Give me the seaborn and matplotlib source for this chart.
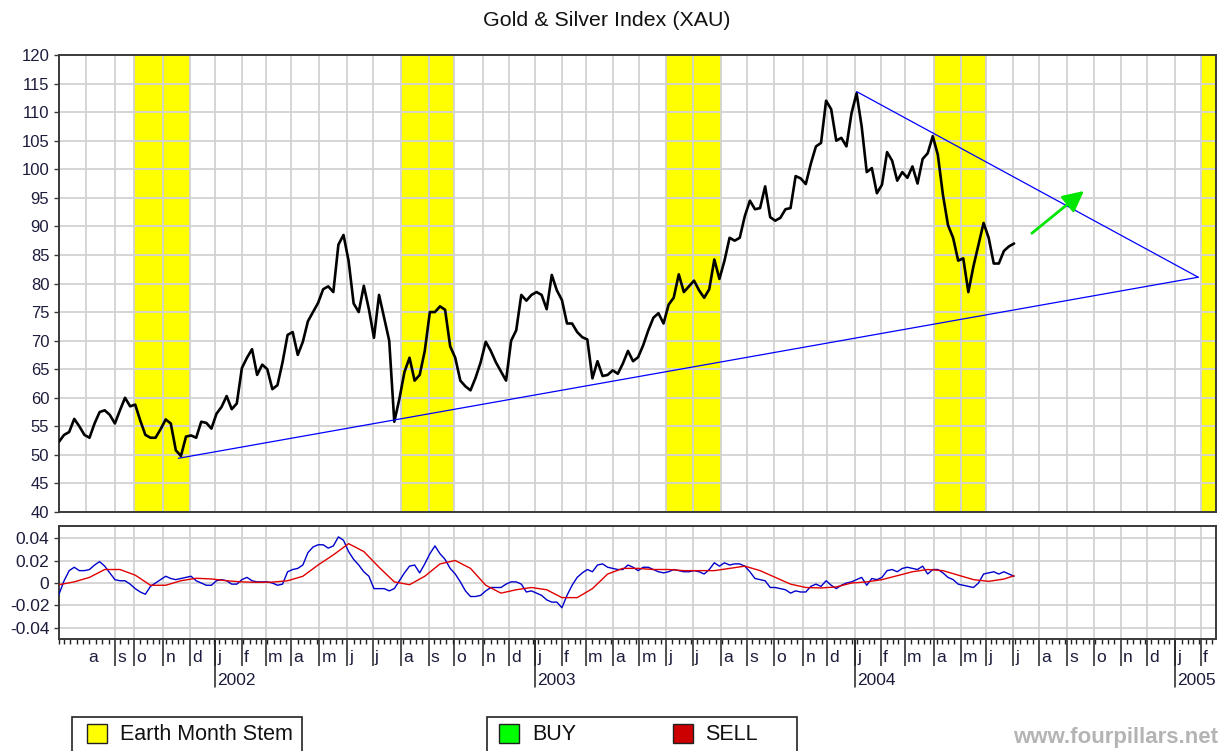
import numpy as np
import pandas as pd
import matplotlib
matplotlib.use("Agg")
import matplotlib.pyplot as plt
import matplotlib.transforms as mtransforms
from matplotlib.patches import Rectangle
from matplotlib.lines import Line2D
import seaborn as sns

# ---------------- data ----------------
TITLE = "Gold & Silver Index (XAU)"
CAL_START = "2001-07-02"
CAL_END = "2005-03-31"
MARKET_CLOSED = [
    "2001-07-04", "2001-09-03", "2001-09-11", "2001-09-12", "2001-09-13", "2001-09-14",
    "2001-11-22", "2001-12-25",
    "2002-01-01", "2002-01-21", "2002-02-18", "2002-03-29", "2002-05-27", "2002-07-04",
    "2002-09-02", "2002-11-28", "2002-12-25",
    "2003-01-01", "2003-01-20", "2003-02-17", "2003-04-18", "2003-05-26", "2003-07-04",
    "2003-09-01", "2003-11-27", "2003-12-25",
    "2004-01-01", "2004-01-19", "2004-02-16", "2004-04-09", "2004-05-31", "2004-06-11",
    "2004-07-05", "2004-09-06", "2004-11-25", "2004-12-24",
    "2005-01-17",
]
SAMPLE_STEP = 4        # trading days between price / oscillator samples
SLOW_STEP = 12         # trading days between smoothed-oscillator samples

price = [
    52.3, 53.5, 54.0, 56.3, 55.0, 53.5, 53.0, 55.5, 57.5, 57.8, 57.0, 55.5, 57.8, 60.0, 58.5, 58.8,
    56.0, 53.5, 53.0, 53.0, 54.5, 56.2, 55.5, 50.8, 49.8, 53.2, 53.4, 53.0, 55.8, 55.6, 54.6, 57.2,
    58.4, 60.3, 58.0, 59.0, 65.2, 67.0, 68.5, 64.0, 65.8, 65.0, 61.5, 62.2, 66.2, 71.0, 71.5, 67.5,
    69.8, 73.4, 75.0, 76.6, 79.0, 79.5, 78.5, 86.8, 88.5, 84.0, 76.5, 75.0, 79.6, 75.5, 70.5, 78.0,
    74.0, 70.0, 55.8, 59.8, 64.5, 67.0, 63.0, 64.0, 68.2, 75.0, 75.0, 76.0, 75.4, 69.0, 67.0, 63.0,
    62.0, 61.3, 63.5, 66.2, 69.8, 68.2, 66.2, 64.6, 63.0, 70.0, 71.8, 78.0, 77.0, 78.0, 78.5,
    78.0, 75.5, 81.5, 78.8, 77.1, 73.0, 73.0, 71.5, 70.6, 70.2, 63.4, 66.4, 63.8, 64.0, 64.8, 64.2,
    66.0, 68.2, 66.4, 67.1, 69.2, 71.8, 74.0, 74.8, 73.0, 76.3, 77.5, 81.6, 78.5, 79.5, 80.5,
    78.8, 77.5, 79.0, 84.2, 80.8, 84.0, 88.0, 87.5, 88.0, 91.8, 94.5, 93.0, 93.2, 97.0, 91.6, 91.0,
    91.5, 93.0, 93.2, 98.8, 98.4, 97.4, 101.0, 104.0, 104.6, 112.0, 110.5, 105.0, 105.5, 104.0, 109.8, 113.3,
    107.5, 99.5, 100.2, 95.8, 97.3, 103.0, 101.5, 98.0, 99.5, 98.5, 100.5, 97.5, 101.8, 102.8, 105.8,
    102.5, 95.5, 90.2, 88.0, 84.0, 84.4, 78.5, 83.0, 86.8, 90.6, 88.0, 83.5, 83.5, 85.7, 86.5, 87.0,
]

osc_fast = [
    -0.010, 0.002, 0.011, 0.014, 0.011, 0.011, 0.012, 0.016, 0.019, 0.015, 0.009, 0.003, 0.002, 0.002,
    -0.001, -0.005, -0.008, -0.010, -0.003, 0.000, 0.003, 0.006, 0.004, 0.003, 0.004, 0.005, 0.006,
    0.002, 0.000, -0.002, -0.002, 0.002,
    0.003, 0.002, -0.001, -0.001, 0.003, 0.005, 0.002, 0.001, 0.001, 0.001, 0.000, -0.002, -0.001,
    0.010, 0.012, 0.013, 0.016, 0.027, 0.032, 0.034, 0.034, 0.031, 0.033, 0.041, 0.038, 0.028, 0.021,
    0.016, 0.010, 0.006, -0.005, -0.005,
    -0.005, -0.007, -0.005, 0.002, 0.009, 0.015, 0.016, 0.009, 0.017, 0.026, 0.033, 0.026, 0.021,
    0.013, 0.008, 0.001, -0.007, -0.012, -0.012, -0.011, -0.007, -0.004, -0.004, -0.004, -0.001,
    0.001, 0.001, -0.001, -0.008, -0.007, -0.009,
    -0.011, -0.015, -0.017, -0.017, -0.022, -0.011, -0.002, 0.005, 0.009, 0.012, 0.010, 0.016, 0.017,
    0.014, 0.013, 0.012, 0.012, 0.016, 0.014, 0.011, 0.014, 0.014, 0.012, 0.010, 0.009, 0.010, 0.012,
    0.011, 0.010, 0.010, 0.011,
    0.010, 0.008, 0.012, 0.018, 0.015, 0.018, 0.016, 0.017, 0.017, 0.015, 0.010, 0.004, 0.003, 0.002,
    -0.004, -0.004, -0.005, -0.006, -0.009, -0.007, -0.008, -0.008, -0.003, -0.001, -0.003, 0.002,
    -0.002, -0.005, -0.002, 0.000, 0.001, 0.003,
    0.005, -0.002, 0.004, 0.003, 0.005, 0.011, 0.012, 0.010, 0.013, 0.014, 0.013, 0.012, 0.015, 0.008,
    0.012, 0.012, 0.009, 0.005, 0.003, -0.001, -0.002, -0.003, -0.004, 0.000, 0.008, 0.009, 0.010,
    0.008, 0.010, 0.008, 0.006,
]

osc_slow = [
    -0.0015, 0.001, 0.005, 0.012, 0.012, 0.007, -0.002, -0.002, 0.002, 0.0042,
    0.0036, 0.002, 0.001, 0.0006, 0.0008, 0.002, 0.006, 0.016, 0.025, 0.035,
    0.028, 0.014, 0.001, -0.0015, 0.006, 0.017, 0.020, 0.013, -0.002, -0.009,
    -0.006, -0.004, -0.006, -0.013, -0.013, -0.005, 0.008, 0.013, 0.013, 0.012,
    0.012, 0.011, 0.011, 0.011, 0.013, 0.015, 0.011, 0.005, -0.001, -0.004,
    -0.0044, -0.0035, 0.000, 0.001, 0.003, 0.0065, 0.010, 0.012, 0.011, 0.007,
    0.003, 0.0015, 0.0035, 0.0065,
]

earth_months = [("2001-10-01", "2001-12-01"), ("2002-08-01", "2002-10-01"),
                ("2003-06-01", "2003-08-01"), ("2004-04-01", "2004-06-01"),
                ("2005-02-01", "2005-03-01")]
support_line = [("2001-11-19", 49.4), ("2005-01-28", 81.1)]
resistance_line = [("2004-01-05", 113.6), ("2005-01-28", 81.1)]
target_arrow = [("2004-07-23", 88.8), ("2004-09-21", 96.2)]
month_letters = ["j", "f", "m", "a", "m", "j", "j", "a", "s", "o", "n", "d"]
first_month_label = "2001-08-01"
last_month_label = "2005-02-01"
price_yticks = list(range(40, 121, 5))
osc_yticks = [-0.04, -0.02, 0.0, 0.02, 0.04]
osc_yticklabels = ["-0.04", "-0.02", "0", "0.02", "0.04"]

# ---------------- trading-day axis ----------------
days = pd.bdate_range(CAL_START, CAL_END)
days = days[~days.isin(pd.to_datetime(MARKET_CLOSED))]
day_vals = days.values


def pos(d):
    return int(np.searchsorted(day_vals, np.datetime64(pd.Timestamp(d))))


x_price = np.arange(len(price)) * SAMPLE_STEP
x_fast = np.arange(len(osc_fast)) * SAMPLE_STEP
x_slow = np.r_[np.arange(len(osc_slow) - 1) * SLOW_STEP, x_fast[-1]]

df_price = pd.DataFrame({"x": x_price, "price": price})
df_fast = pd.DataFrame({"x": x_fast, "osc": osc_fast})
df_slow = pd.DataFrame({"x": x_slow, "osc": osc_slow})

xmax = pos(last_month_label) + 12
months = pd.date_range(CAL_START, last_month_label, freq="MS")
month_pos = [pos(m) for m in months]
label_months = pd.date_range(first_month_label, last_month_label, freq="MS")
wd = days.weekday.values
week_pos = [i for i in range(len(days)) if (i == 0 or wd[i] < wd[i - 1]) and i <= xmax]

# ---------------- style ----------------
sns.set_theme(style="white")
plt.rcParams["font.family"] = ["Liberation Sans", "DejaVu Sans"]
TXT = "#1c1c3c"
SPINE = "#3a3a3a"
GRID = "#d2d2d2"

fig = plt.figure(figsize=(12.24, 7.51), dpi=100)
W, H = 1224.0, 751.0
ax = fig.add_axes([59 / W, 1 - 512 / H, 1157 / W, 457 / H])
ax2 = fig.add_axes([59 / W, 1 - 639 / H, 1157 / W, 113 / H])

# ---------------- main panel ----------------
for s, e in earth_months:
    ax.axvspan(pos(s), pos(e), color="#ffff00", lw=0, zorder=0.2)

sns.lineplot(data=df_price, x="x", y="price", ax=ax, color="black", lw=1.9, zorder=3)

for line in (support_line, resistance_line):
    ax.plot([pos(line[0][0]), pos(line[1][0])], [line[0][1], line[1][1]],
            color="#0000ff", lw=0.9, zorder=4)

ax.annotate("", xy=(pos(target_arrow[1][0]), target_arrow[1][1]),
            xytext=(pos(target_arrow[0][0]), target_arrow[0][1]),
            arrowprops=dict(arrowstyle="-|>,head_length=0.9,head_width=0.45",
                            color="#00e600", lw=2.0, mutation_scale=14, shrinkA=0, shrinkB=0),
            zorder=5)

ax.set_xticks(month_pos)
ax.set_xticklabels([])
ax.tick_params(axis="x", length=0)
ax.set_yticks(price_yticks)
ax.set_yticklabels([str(v) for v in price_yticks])
ax.tick_params(axis="y", direction="out", length=3.8, width=1, color=SPINE,
               labelsize=12, labelcolor=TXT, pad=3.2, left=True)
ax.set_xlim(0, xmax)
ax.set_ylim(40, 120)
ax.set_axisbelow(True)
ax.grid(True, which="major", color=GRID, lw=1.3)
ax.set_xlabel("")
ax.set_ylabel("")
for sp in ax.spines.values():
    sp.set_color(SPINE)
    sp.set_linewidth(1.4)

# ---------------- oscillator panel ----------------
sns.lineplot(data=df_fast, x="x", y="osc", ax=ax2, color="#0000cc", lw=1.0, zorder=3)
sns.lineplot(data=df_slow, x="x", y="osc", ax=ax2, color="#e00000", lw=1.0, zorder=4)
ax2.set_yticks(osc_yticks)
ax2.set_yticklabels(osc_yticklabels)
ax2.set_xticks(month_pos[1:])
ax2.set_xticks(week_pos, minor=True)
ax2.set_xticklabels([])
ax2.tick_params(axis="x", which="major", direction="out", length=19.5, width=1.1, color="#222222",
                bottom=True)
ax2.tick_params(axis="x", which="minor", direction="out", length=3.6, width=1.0, color="#222222",
                bottom=True)
ax2.tick_params(axis="y", direction="out", length=3.8, width=1, color=SPINE,
                labelsize=12.5, labelcolor=TXT, pad=3.2, left=True)
ax2.set_xlim(0, xmax)
ax2.set_ylim(-0.0498, 0.0507)
ax2.set_axisbelow(True)
ax2.grid(True, which="major", color=GRID, lw=1.3)
ax2.set_xlabel("")
ax2.set_ylabel("")
for sp in ax2.spines.values():
    sp.set_color(SPINE)
    sp.set_linewidth(1.4)

blend = mtransforms.blended_transform_factory(ax2.transData, ax2.transAxes)
lab_off = blend + mtransforms.ScaledTranslation(2.2 / 100, 0, fig.dpi_scale_trans)
for m in label_months:
    p = pos(m)
    ax2.text(p, -0.165, month_letters[m.month - 1], transform=lab_off, ha="left", va="center",
             fontsize=12.5, color=TXT, clip_on=False)
    if m.month == 1:
        ax2.add_line(Line2D([p, p], [0, -48 / 113.0], transform=blend, color="#222222",
                            lw=1.1, clip_on=False))
        ax2.text(p, -0.37, str(m.year), transform=lab_off, ha="left", va="center",
                 fontsize=12.5, color=TXT, clip_on=False)
ax2.set_xlim(0, xmax)

# ---------------- title, legends, watermark ----------------
fig.text(607 / W, 1 - 21 / H, TITLE, ha="center", va="center", fontsize=15.4, color="#111111")


def box(x0, y0, x1, y1, face="white", lw=1.2):
    fig.patches.append(Rectangle((x0 / W, 1 - y1 / H), (x1 - x0) / W, (y1 - y0) / H,
                                 transform=fig.transFigure, facecolor=face, edgecolor="#222222",
                                 lw=lw, clip_on=False))


box(72, 717, 302, 752)
box(87, 724, 107, 743, face="#ffff00", lw=1.0)
fig.text(120 / W, 1 - 734 / H, "Earth Month Stem", ha="left", va="center", fontsize=15.5, color="#111111")

box(487, 717, 797, 752)
box(499, 724, 519, 743, face="#00ff00", lw=1.0)
fig.text(532 / W, 1 - 734 / H, "BUY", ha="left", va="center", fontsize=15.5, color="#111111")
box(673, 724, 693, 743, face="#cc0000", lw=1.0)
fig.text(705 / W, 1 - 734 / H, "SELL", ha="left", va="center", fontsize=15.5, color="#111111")

fig.text(1218 / W, 1 - 737 / H, "www.fourpillars.net", ha="right", va="center", fontsize=16,
         fontweight="bold", color="#b4b4b4")

fig.savefig("out.png", dpi=100)
